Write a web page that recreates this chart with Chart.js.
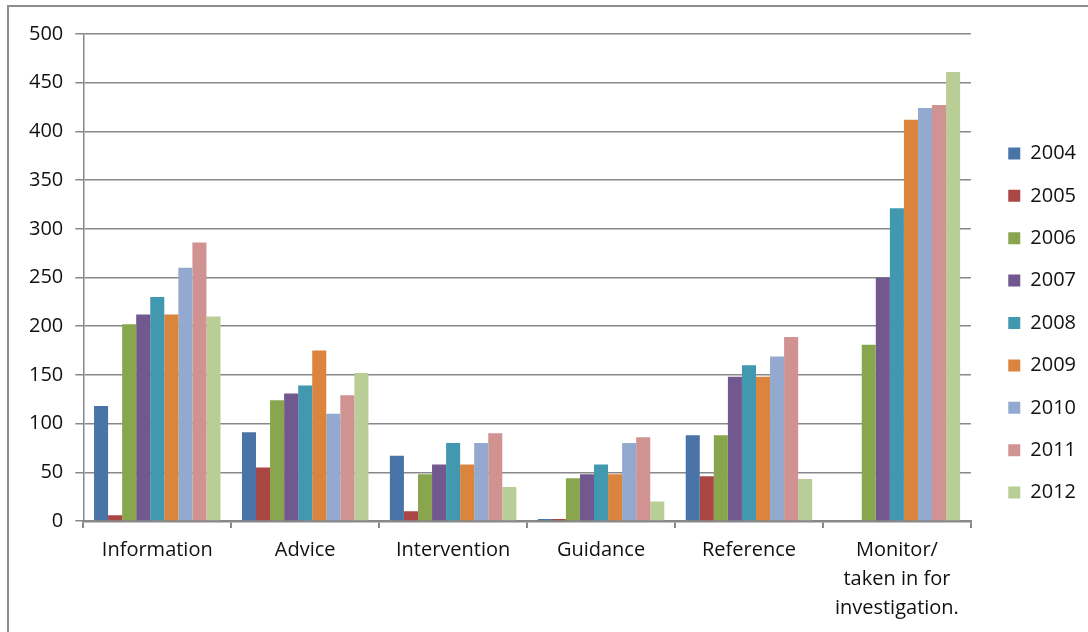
<!DOCTYPE html>
<html>
<head>
<meta charset="utf-8">
<script src="https://cdn.jsdelivr.net/npm/chart.js@4.4.1/dist/chart.umd.min.js"></script>
<style>
  html, body { margin: 0; padding: 0; background: #ffffff; }
  #wrap { width: 1088px; height: 632px; position: relative; }
</style>
</head>
<body>
<div id="wrap"><canvas id="chart" width="1088" height="632"></canvas></div>
<script>
// Case categories (x axis)
const categories = [
  "Information",
  "Advice",
  "Intervention",
  "Guidance",
  "Reference",
  ["Monitor/", "taken in for", "investigation."]
];

// Yearly counts per category
const years = ["2004", "2005", "2006", "2007", "2008", "2009", "2010", "2011", "2012"];
const v2004 = [118, 91, 67, 2, 88, 0];
const v2005 = [6, 55, 10, 2, 46, 0];
const v2006 = [202, 124, 48, 44, 88, 181];
const v2007 = [212, 131, 58, 48, 148, 250];
const v2008 = [230, 139, 80, 58, 160, 321];
const v2009 = [212, 175, 58, 48, 148, 412];
const v2010 = [260, 110, 80, 80, 169, 424];
const v2011 = [286, 129, 90, 86, 189, 427];
const v2012 = [210, 152, 35, 20, 43, 461];

// Y axis tick values
const yTicks = [0, 50, 100, 150, 200, 250, 300, 350, 400, 450, 500];

const seriesValues = [v2004, v2005, v2006, v2007, v2008, v2009, v2010, v2011, v2012];
const seriesColors = [
  "#4a74a8", "#aa4643", "#89a54e", "#71588f", "#4198af",
  "#db843d", "#93a9cf", "#d19392", "#b9cd96"
];

const datasets = years.map((y, i) => ({
  label: y,
  data: seriesValues[i],
  backgroundColor: seriesColors[i],
  borderWidth: 0,
  barPercentage: 1.0,
  categoryPercentage: 0.855
}));

// Grey frame on the left and top edges; also places the legend column
// a fixed gap to the right of the plot area.
const LEGEND_GAP = 15;
const LEGEND_DROP = 7;
const framePlugin = {
  id: "frame",
  beforeDraw(chart) {
    const lg = chart.legend;
    if (lg) {
      const w = lg.width, h = lg.height;
      lg.left = chart.chartArea.right + LEGEND_GAP;
      lg.right = lg.left + w;
      lg.top = (chart.height - h) / 2 + LEGEND_DROP;
      lg.bottom = lg.top + h;
    }
    const ctx = chart.ctx;
    ctx.save();
    ctx.fillStyle = "#ffffff";
    ctx.fillRect(0, 0, chart.width, chart.height);
    ctx.strokeStyle = "#8c8c8c";
    ctx.lineWidth = 2;
    ctx.beginPath();
    ctx.moveTo(8, chart.height);
    ctx.lineTo(8, 6);
    ctx.lineTo(chart.width, 6);
    ctx.stroke();
    ctx.restore();
  }
};

const GRID = "#888888";
const TEXT = "#111111";
const FONT = "'Open Sans', sans-serif";

new Chart(document.getElementById("chart"), {
  type: "bar",
  data: { labels: categories, datasets },
  plugins: [framePlugin],
  options: {
    responsive: false,
    animation: false,
    events: [],
    layout: { padding: { top: 34, left: 17, right: 17, bottom: 1 } },
    plugins: {
      tooltip: { enabled: false },
      legend: {
        position: "right",
        align: "center",
        labels: {
          boxWidth: 12,
          boxHeight: 12,
          padding: 22.4,
          color: TEXT,
          font: { family: FONT, size: 20 }
        }
      }
    },
    scales: {
      x: {
        offset: true,
        grid: {
          offset: true,
          drawOnChartArea: false,
          drawTicks: true,
          tickLength: 7,
          color: GRID,
          lineWidth: 2
        },
        border: { display: true, color: GRID, width: 2.5 },
        ticks: {
          color: TEXT,
          padding: 8,
          maxRotation: 0,
          autoSkip: false,
          font: { family: FONT, size: 20, lineHeight: 1.45 }
        }
      },
      y: {
        min: 0,
        max: 500,
        afterBuildTicks(axis) {
          axis.ticks = yTicks.map(v => ({ value: v }));
        },
        grid: {
          color: GRID,
          lineWidth: 1.5,
          tickLength: 8,
          drawTicks: true
        },
        border: { display: true, color: GRID, width: 1.5 },
        ticks: {
          color: TEXT,
          padding: 12,
          font: { family: FONT, size: 20 }
        }
      }
    }
  }
});
</script>
</body>
</html>
